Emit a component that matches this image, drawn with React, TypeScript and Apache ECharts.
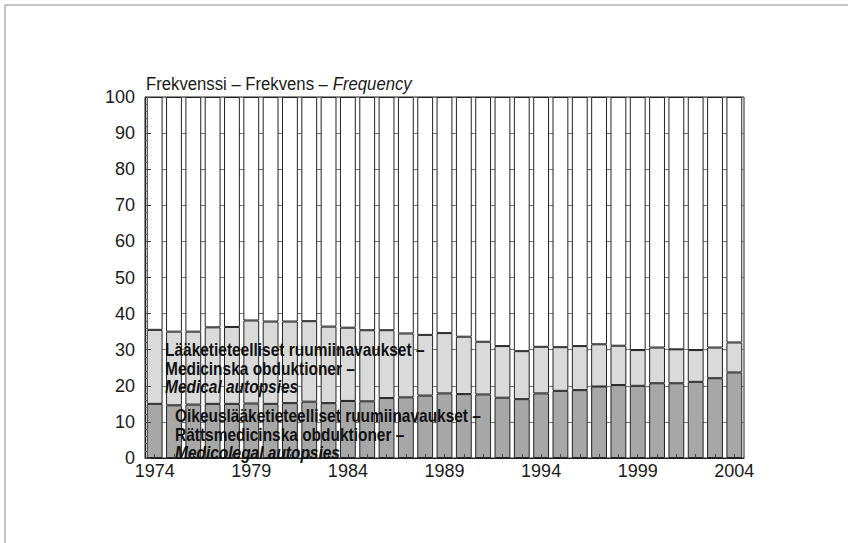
import React, { useEffect, useRef } from "react";
import * as echarts from "echarts";

const years: string[] = [
  "1974", "1975", "1976", "1977", "1978", "1979", "1980", "1981", "1982", "1983",
  "1984", "1985", "1986", "1987", "1988", "1989", "1990", "1991", "1992", "1993",
  "1994", "1995", "1996", "1997", "1998", "1999", "2000", "2001", "2002", "2003", "2004",
];

// Medicolegal autopsies (bottom, dark)
const medicolegal: number[] = [
  15.0, 14.6, 14.8, 15.0, 15.0, 15.1, 15.0, 15.2, 15.6, 15.2,
  15.8, 15.7, 16.6, 16.8, 17.3, 17.9, 17.7, 17.6, 16.7, 16.3,
  17.9, 18.6, 18.8, 19.8, 20.2, 20.0, 20.7, 20.7, 21.1, 22.1, 23.7,
];

// Medical autopsies (middle, light)
const medical: number[] = [
  20.5, 20.4, 20.2, 21.2, 21.3, 23.0, 22.8, 22.6, 22.3, 21.2,
  20.3, 19.7, 18.8, 17.7, 16.8, 16.7, 15.9, 14.6, 14.3, 13.3,
  12.9, 12.1, 12.2, 11.7, 10.9, 9.9, 9.9, 9.4, 8.8, 8.5, 8.3,
];

const yTicks: number[] = [0, 10, 20, 30, 40, 50, 60, 70, 80, 90, 100];

const titleParts = ["Frekvenssi – Frekvens – ", "Frequency"];
const medicalLabel = ["Lääketieteelliset ruumiinavaukset –", "Medicinska obduktioner –", "Medical autopsies"];
const medicolegalLabel = ["Oikeuslääketieteelliset ruumiinavaukset –", "Rättsmedicinska obduktioner –", "Medicolegal autopsies"];

const FONT = "'Liberation Sans', Arial, sans-serif";

export default function App() {
  const ref = useRef<HTMLDivElement>(null);

  useEffect(() => {
    if (!ref.current) return;
    const chart = echarts.init(ref.current, null, { renderer: "svg" });
    const rest = medicolegal.map((v, i) => Math.round((100 - v - medical[i]) * 10) / 10);
    const border = { borderColor: "#222", borderWidth: 1 };
    const labelRich = {
      b: { fontSize: 18, fontWeight: "bold", fontFamily: FONT, fill: "#111", lineHeight: 18.5 },
      bi: { fontSize: 18, fontWeight: "bold", fontStyle: "italic", fontFamily: FONT, fill: "#111", lineHeight: 18.5 },
    };

    const option: echarts.EChartsOption = {
      animation: false,
      backgroundColor: "#ffffff",
      textStyle: { fontFamily: FONT },
      grid: {
        left: 145,
        right: 104,
        top: 97,
        bottom: 85,
        show: true,
        borderColor: "#222",
        borderWidth: 1,
        backgroundColor: "transparent",
      },
      xAxis: {
        type: "category",
        data: years,
        z: 5,
        axisLine: { lineStyle: { color: "#222", width: 1 } },
        axisTick: { show: true, inside: true, length: 4, alignWithLabel: true, interval: 0, lineStyle: { color: "#444" } },
        axisLabel: {
          interval: 4,
          fontSize: 18,
          color: "#1a1a1a",
          margin: 4,
          fontFamily: FONT,
        },
      },
      yAxis: [
        {
          type: "value",
          min: yTicks[0],
          max: yTicks[yTicks.length - 1],
          interval: 10,
          z: 5,
          axisLine: { show: true, lineStyle: { color: "#222", width: 1 } },
          axisTick: { show: true, inside: true, length: 6, lineStyle: { color: "#444" } },
          minorTick: { show: true, splitNumber: 5, length: 3, lineStyle: { color: "#555" } },
          splitLine: { show: false },
          axisLabel: { fontSize: 18, color: "#1a1a1a", margin: 10, fontFamily: FONT },
        },
        {
          type: "value",
          position: "left",
          min: yTicks[0],
          max: yTicks[yTicks.length - 1],
          interval: 10,
          z: 0,
          axisLine: { show: false },
          axisTick: { show: false },
          axisLabel: { show: false },
          splitLine: { show: true, lineStyle: { color: "#777", width: 1 } },
        },
      ],
      series: [
        {
          name: "Medicolegal autopsies",
          type: "bar",
          stack: "total",
          yAxisIndex: 0,
          barCategoryGap: "18%",
          z: 2,
          itemStyle: { color: "#a7a7a7", ...border },
          data: medicolegal,
        },
        {
          name: "Medical autopsies",
          type: "bar",
          stack: "total",
          yAxisIndex: 0,
          barCategoryGap: "18%",
          z: 2,
          itemStyle: { color: "#dadada", ...border },
          data: medical,
        },
        {
          name: "Rest",
          type: "bar",
          stack: "total",
          yAxisIndex: 0,
          barCategoryGap: "18%",
          z: 2,
          itemStyle: { color: "#ffffff", ...border },
          data: rest,
        },
      ],
      graphic: [
        {
          type: "rect",
          silent: true,
          shape: { x: 5, y: 5, width: 900, height: 600 },
          style: { fill: "none", stroke: "#8a8a8a", lineWidth: 1 },
          z: 0,
        },
        {
          type: "text",
          x: 146,
          y: 84,
          scaleX: 0.88,
          z: 10,
          style: {
            text: `{n|${titleParts[0]}}{i|${titleParts[1]}}`,
            verticalAlign: "middle",
            rich: {
              n: { fontSize: 19, fontFamily: FONT, fill: "#1a1a1a" },
              i: { fontSize: 19, fontFamily: FONT, fontStyle: "italic", fill: "#1a1a1a" },
            },
          } as any,
        },
        {
          type: "text",
          x: 165,
          y: 369,
          scaleX: 0.86,
          z: 10,
          style: {
            text: `{b|${medicalLabel[0]}}\n{b|${medicalLabel[1]}}\n{bi|${medicalLabel[2]}}`,
            verticalAlign: "middle",
            rich: labelRich,
          } as any,
        },
        {
          type: "text",
          x: 175,
          y: 435,
          scaleX: 0.86,
          z: 10,
          style: {
            text: `{b|${medicolegalLabel[0]}}\n{b|${medicolegalLabel[1]}}\n{bi|${medicolegalLabel[2]}}`,
            verticalAlign: "middle",
            rich: labelRich,
          } as any,
        },
      ],
    };
    chart.setOption(option);
    return () => chart.dispose();
  }, []);

  return (
    <div
      ref={ref}
      style={{ position: "absolute", left: 0, top: 0, width: 848, height: 543, background: "#fff" }}
    />
  );
}
